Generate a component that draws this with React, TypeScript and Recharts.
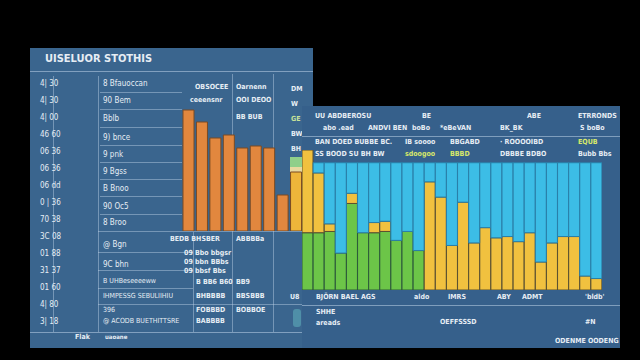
import { Bar, BarChart, Cell, XAxis, YAxis } from "recharts"

// left panel
const leftTitle = "UISELUOR STOTHIS"
const axisLabels = ["4| 30", "4| 30", "4| 00", "46 60", "06 36", "06 36", "06 dd", "0 | 36", "70 38", "3C 08", "01 88", "31 37", "01 60", "4| 80", "3| 18"]
const rowLabels = ["8 Bfauoccan", "90 Bem", "Bblb", "9) bnce", "9 pnk", "9 Bgss", "B Bnoo", "90 Oc5", "8 Broo", "@ Bgn", "9C bhn", "B UHBeseeeeww", "IHMPESSG SEBULIIHIU", "396", "@ ACODB BUETHITTSRE"]
const leftBarNames = ["b1", "b2", "b3", "b4", "b5", "b6", "b7", "b8", "b9"]
const leftBarValues = [121, 109, 93, 96, 83, 85, 83, 36, 59]
const midTopLabels = ["OBSOCEE", "ceeensnr", "Oarnenn", "OOI DEOO", "BB BUB"]
const midLowLabels = ["BEDB BHSBER", "ABBBBa", "09 Bbo bbgsr", "09 bbn BBbs", "09 bbsf Bbs", "B BB6 B60", "BB9", "BHBBBB", "BBSBBB", "FOBBBD", "BOBBOE", "BABBBB"]
const legendTags = ["DM", "W", "GE", "BW", "BH"]

// right panel
const headerRow1 = ["UU ABDBEROSU", "BE", "ABE", "ETRRONDS"]
const headerRow2 = ["abo .ead", "ANDVI BEN", "boBo", "*eBeVAN", "BK_BK", "S boBo"]
const headerRow3 = ["BAN DOED BUBBE BC.", "IB soooo", "BBGABD", "· ROOOOIBD", "EQUB"]
const headerRow4 = ["SS BOOD SU BH BW", "sdoogoo", "BBBD", "DBBBE BDBO", "Bubb Bbs"]
const rightCategories = ["c1", "c2", "c3", "c4", "c5", "c6", "c7", "c8", "c9", "c10", "c11", "c12", "c13", "c14", "c15", "c16", "c17", "c18", "c19", "c20", "c21", "c22", "c23", "c24", "c25", "c26", "c27"]
const greenValues = [45, 45, 46, 29, 68, 45, 45, 46, 39, 46, 31, 0, 0, 0, 0, 0, 0, 0, 0, 0, 0, 0, 0, 0, 0, 0, 0]
const yellowValues = [65, 47, 6, 0, 8, 0, 8, 8, 0, 0, 0, 85, 73, 35, 69, 37, 49, 41, 42, 38, 45, 22, 37, 42, 42, 11, 9]
const cyanValues = [0, 8, 48, 71, 24, 55, 47, 46, 61, 54, 69, 15, 27, 65, 31, 63, 51, 59, 58, 62, 55, 78, 63, 58, 58, 89, 91]
const xTickLabels = ["BJÖRN BAEL AGS", "aldo", "IMRS", "ABY", "ADMT", "'bldb'"]
const footLabels = ["SHHE", "areads", "OEFFSSSD", "#N"]
const cornerLabel = "ODENME OODENG"

const leftData = leftBarNames.map((name, i) => ({ name, value: leftBarValues[i] }))
const rightData = rightCategories.map((name, i) => ({
  name,
  green: greenValues[i],
  yellow: yellowValues[i],
  cyan: cyanValues[i],
}))

const txt = "#e6edf4"
const font = "'DejaVu Sans Condensed', 'DejaVu Sans', sans-serif"

function T({ x, y, s, size = 7, color = txt, bold = true }: { x: number; y: number; s: string; size?: number; color?: string; bold?: boolean }) {
  return (
    <div style={{ position: "absolute", left: x, top: y, fontSize: size, color, fontWeight: bold ? 700 : 400, whiteSpace: "nowrap", lineHeight: 1 }}>
      {s}
    </div>
  )
}

function HLine({ x, y, w, c = "rgba(190,210,230,0.45)" }: { x: number; y: number; w: number; c?: string }) {
  return <div style={{ position: "absolute", left: x, top: y, width: w, height: 1, background: c }} />
}

function VLine({ x, y, h, c = "rgba(190,210,230,0.45)" }: { x: number; y: number; h: number; c?: string }) {
  return <div style={{ position: "absolute", left: x, top: y, width: 1, height: h, background: c }} />
}

const rowTops = [80, 97, 115, 134, 151, 168, 185, 203, 219, 241, 261, 278, 293, 307, 318]

export default function App() {
  return (
    <div style={{ position: "fixed", left: 0, top: 0, width: 640, height: 360, background: "#000", fontFamily: font, overflow: "hidden" }}>
      {/* left panel */}
      <div style={{ position: "absolute", left: 30, top: 48, width: 283, height: 300, background: "#3a658e" }} />
      <T x={45} y={53} s={leftTitle} size={11} />
      <HLine x={30} y={71} w={283} c="rgba(200,220,240,0.5)" />
      <VLine x={53} y={76} h={256} />
      <VLine x={98} y={76} h={256} />
      <VLine x={232} y={74} h={258} />
      <VLine x={273} y={74} h={258} />
      <VLine x={193} y={232} h={100} />
      {axisLabels.map((s, i) => (
        <T key={"a" + i} x={40} y={80 + i * 17} s={s} size={8} bold={false} />
      ))}
      {rowLabels.map((s, i) => (
        <T key={"r" + i} x={103} y={rowTops[i]} s={s} size={i > 10 ? 7 : 8} bold={false} />
      ))}
      {[92, 109, 127, 145, 162, 179, 196, 214].map((y) => (
        <HLine key={y} x={100} y={y} w={82} />
      ))}
      <HLine x={98} y={231} w={215} />
      {[252, 270, 288].map((y) => (
        <HLine key={y} x={98} y={y} w={95} />
      ))}
      <HLine x={98} y={304} w={215} />
      <HLine x={30} y={332} w={590} c="rgba(200,220,240,0.5)" />
      <T x={195} y={84} s={midTopLabels[0]} size={7} />
      <T x={190} y={97} s={midTopLabels[1]} size={7} />
      <T x={236} y={84} s={midTopLabels[2]} size={7} />
      <T x={236} y={97} s={midTopLabels[3]} size={7} />
      <T x={236} y={114} s={midTopLabels[4]} size={7} />
      <T x={170} y={236} s={midLowLabels[0]} size={7} />
      <T x={236} y={236} s={midLowLabels[1]} size={7} />
      <T x={184} y={250} s={midLowLabels[2]} size={7} />
      <T x={184} y={259} s={midLowLabels[3]} size={7} />
      <T x={184} y={268} s={midLowLabels[4]} size={7} />
      <T x={196} y={279} s={midLowLabels[5]} size={7} />
      <T x={236} y={279} s={midLowLabels[6]} size={7} />
      <T x={196} y={293} s={midLowLabels[7]} size={7} />
      <T x={236} y={293} s={midLowLabels[8]} size={7} />
      <T x={196} y={307} s={midLowLabels[9]} size={7} />
      <T x={236} y={307} s={midLowLabels[10]} size={7} />
      <T x={196} y={318} s={midLowLabels[11]} size={7} />
      {legendTags.map((s, i) => (
        <T key={"g" + i} x={291} y={86 + i * 15} s={s} size={7} color={i === 2 ? "#c8e29a" : txt} />
      ))}
      <div style={{ position: "absolute", left: 290, top: 157, width: 12, height: 10, background: "#8fcf8a" }} />
      <div style={{ position: "absolute", left: 290, top: 167, width: 12, height: 12, background: "#e8d9a0" }} />
      <T x={75} y={334} s="Flak" size={7} />
      <T x={105} y={334} s="uaoane" size={6} />
      <div style={{ position: "absolute", left: 100, top: 100 }}>
        <BarChart width={203} height={131} data={leftData} margin={{ top: 0, right: 0, bottom: 0, left: 82 }} barCategoryGap={1}>
          <XAxis dataKey="name" hide />
          <YAxis hide domain={[0, 131]} />
          <Bar dataKey="value" isAnimationActive={false} stroke="#7a4a22" strokeWidth={1}>
            {leftData.map((d, i) => (
              <Cell key={d.name} fill={i === 8 ? "#eeb53a" : "#e2873e"} />
            ))}
          </Bar>
        </BarChart>
      </div>

      {/* right panel */}
      <div style={{ position: "absolute", left: 302, top: 106, width: 318, height: 242, background: "#36608b" }} />
      <T x={315} y={113} s={headerRow1[0]} />
      <T x={422} y={113} s={headerRow1[1]} />
      <T x={527} y={113} s={headerRow1[2]} />
      <T x={578} y={113} s={headerRow1[3]} />
      <T x={323} y={125} s={headerRow2[0]} />
      <T x={368} y={125} s={headerRow2[1]} />
      <T x={412} y={125} s={headerRow2[2]} />
      <T x={440} y={125} s={headerRow2[3]} />
      <T x={500} y={125} s={headerRow2[4]} />
      <T x={580} y={125} s={headerRow2[5]} />
      <HLine x={302} y={136} w={318} c="rgba(200,220,240,0.5)" />
      <T x={315} y={139} s={headerRow3[0]} />
      <T x={405} y={139} s={headerRow3[1]} />
      <T x={450} y={139} s={headerRow3[2]} />
      <T x={500} y={139} s={headerRow3[3]} />
      <T x={578} y={139} s={headerRow3[4]} color="#d8e86a" />
      <T x={315} y={151} s={headerRow4[0]} />
      <T x={405} y={151} s={headerRow4[1]} color="#d8e86a" />
      <T x={450} y={151} s={headerRow4[2]} color="#d8e86a" />
      <T x={500} y={151} s={headerRow4[3]} />
      <T x={578} y={151} s={headerRow4[4]} />
      <div style={{ position: "absolute", left: 302, top: 150 }}>
        <BarChart width={300} height={140} data={rightData} margin={{ top: 0, right: 0, bottom: 0, left: 0 }} barCategoryGap={0}>
          <XAxis dataKey="name" hide />
          <YAxis hide domain={[0, 110]} />
          <Bar dataKey="green" stackId="s" fill="#6cc548" stroke="#2d5a3a" strokeWidth={1} isAnimationActive={false} />
          <Bar dataKey="yellow" stackId="s" fill="#f1c13f" stroke="#5a5030" strokeWidth={1} isAnimationActive={false} />
          <Bar dataKey="cyan" stackId="s" fill="#3cbde6" stroke="#2a7fa8" strokeWidth={1} isAnimationActive={false} />
        </BarChart>
      </div>
      <T x={290} y={294} s="U8" size={7} />
      <T x={316} y={294} s={xTickLabels[0]} />
      <T x={414} y={294} s={xTickLabels[1]} />
      <T x={448} y={294} s={xTickLabels[2]} />
      <T x={497} y={294} s={xTickLabels[3]} />
      <T x={522} y={294} s={xTickLabels[4]} />
      <T x={585} y={294} s={xTickLabels[5]} />
      <HLine x={302} y={305} w={318} c="rgba(200,220,240,0.5)" />
      <div style={{ position: "absolute", left: 293, top: 309, width: 8, height: 18, background: "#4f8fa8", borderRadius: 3 }} />
      <T x={316} y={309} s={footLabels[0]} />
      <T x={316} y={320} s={footLabels[1]} />
      <T x={440} y={319} s={footLabels[2]} />
      <T x={585} y={319} s={footLabels[3]} />
      <T x={555} y={338} s={cornerLabel} size={7} />
    </div>
  )
}
